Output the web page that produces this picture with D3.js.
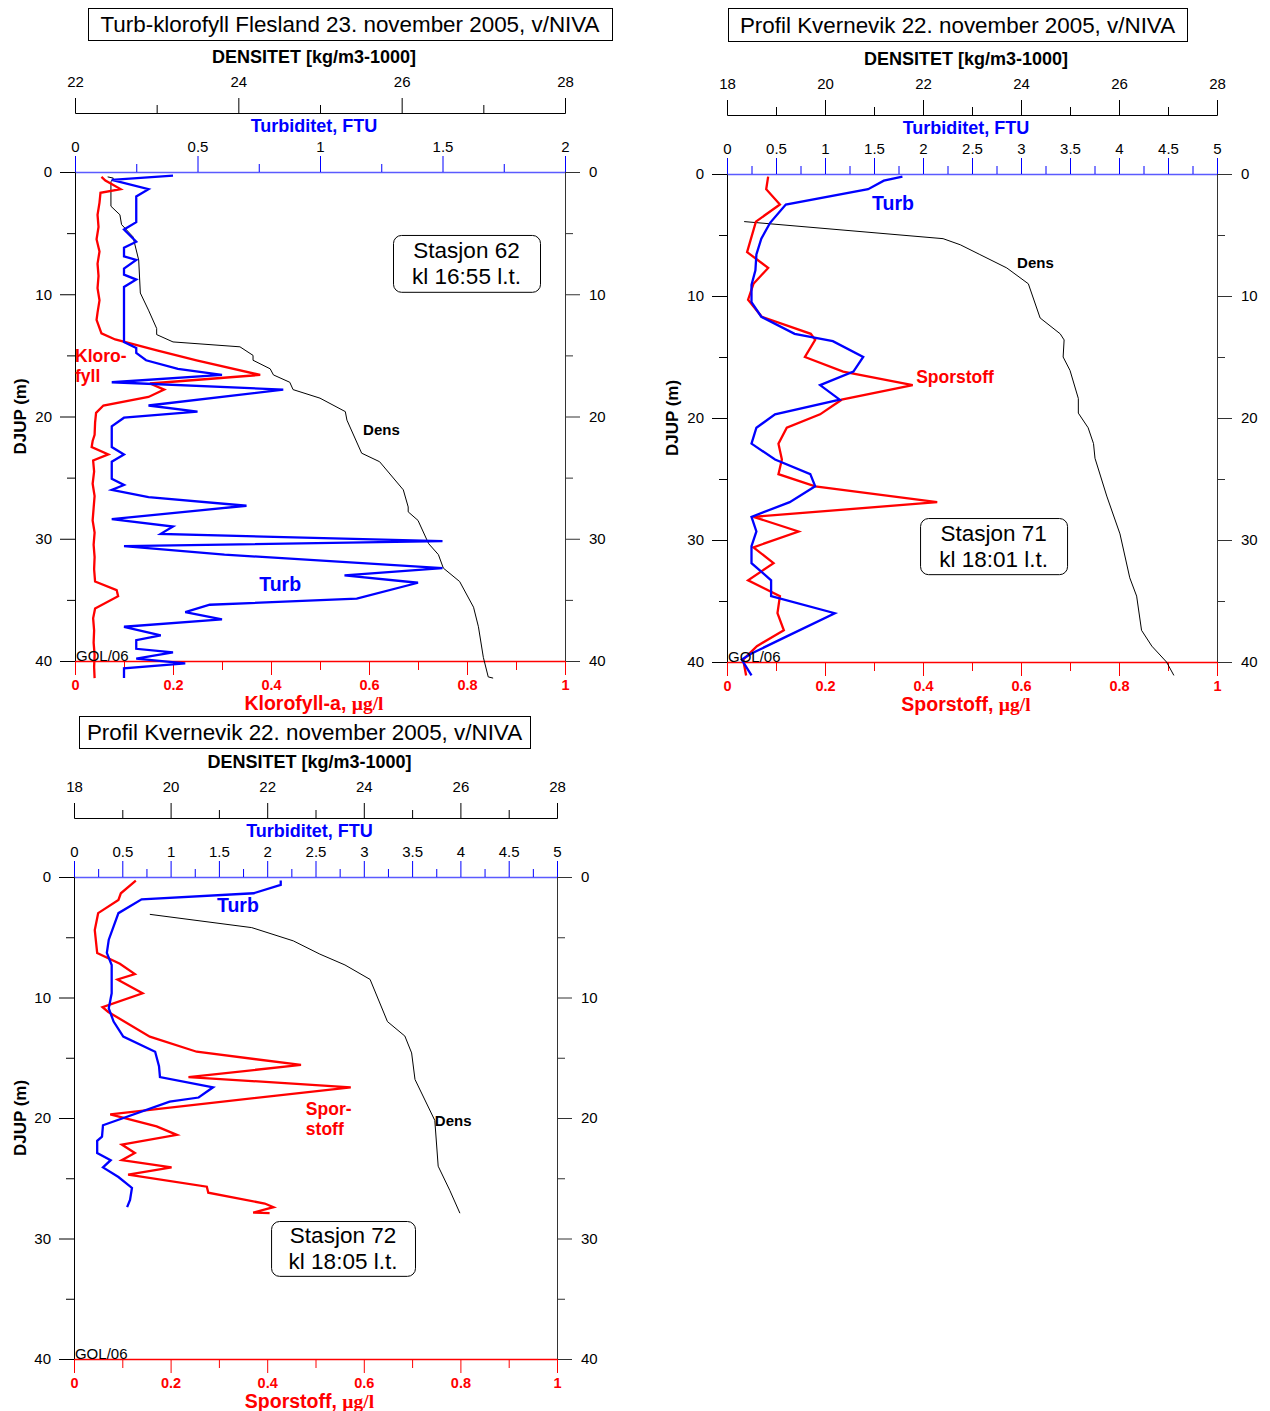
<!DOCTYPE html>
<html><head><meta charset="utf-8">
<script src="https://cdn.jsdelivr.net/npm/d3@7"></script>
<style>body{margin:0;background:#fff}svg{display:block}</style>
</head><body>
<svg id="c" width="1270" height="1411"></svg>
<script>
// ---------------- DATA ----------------
const depthMajorTicks = [0, 10, 20, 30, 40];
const depthMinorTicks = [5, 15, 25, 35];
const bottomMajorTicks = [0, 0.2, 0.4, 0.6, 0.8, 1];
const bottomMinorTicks = [0.1, 0.3, 0.5, 0.7, 0.9];

const p1DensTicks = [22, 24, 26, 28];
const p1DensMinor = [23, 25, 27];
const p1TurbTicks = [0, 0.5, 1, 1.5, 2];
const p1TurbMinor = [0.25, 0.75, 1.25, 1.75];
const p23DensTicks = [18, 20, 22, 24, 26, 28];
const p23DensMinor = [19, 21, 23, 25, 27];
const p23TurbTicks = [0, 0.5, 1, 1.5, 2, 2.5, 3, 3.5, 4, 4.5, 5];
const p23TurbMinor = [0.25, 0.75, 1.25, 1.75, 2.25, 2.75, 3.25, 3.75, 4.25, 4.75];

// Panel 1 – Stasjon 62
const p1TurbDepth = [0.3,0.65,1.4,2.0,4.1,4.7,5.7,6.2,6.9,7.2,7.9,8.4,8.8,9.4,13.9,14.4,14.8,15.4,16.1,16.6,17.2,17.8,19.1,19.6,20.1,20.8,22.5,23.1,23.7,25.1,25.6,26.0,26.6,27.3,28.4,29.0,29.6,30.2,30.6,31.3,32.4,33.0,33.6,34.9,35.4,36.0,36.6,37.2,37.9,38.3,39.0,39.3,39.8,40.2,40.6,41.4];
const p1TurbFTU   = [0.40,0.15,0.30,0.25,0.25,0.20,0.25,0.20,0.20,0.25,0.20,0.20,0.25,0.20,0.20,0.25,0.25,0.29,0.42,0.60,0.15,0.85,0.30,0.50,0.20,0.15,0.15,0.20,0.15,0.15,0.20,0.15,0.30,0.70,0.15,0.40,0.35,1.50,0.20,0.61,1.50,1.10,1.40,1.15,0.55,0.45,0.60,0.20,0.35,0.25,0.25,0.40,0.25,0.45,0.20,0.20];
const p1ChlDepth = [0.4,0.7,1.4,1.7,2.5,3.5,4.5,5.5,6.5,7.5,8.5,9.5,10.5,11.5,12.1,13.2,13.7,14.6,15.4,16.6,17.3,17.8,18.4,19.1,19.7,20.5,21.5,22.0,22.5,23.1,23.6,24.5,25.5,26.5,27.5,28.5,29.5,30.5,31.5,32.5,33.5,34.2,34.7,35.7,36.5,37.5,38.5,39.5,40.5,41.4];
const p1Chl      = [0.054,0.062,0.093,0.052,0.050,0.046,0.048,0.044,0.050,0.046,0.048,0.046,0.050,0.046,0.044,0.054,0.082,0.167,0.248,0.378,0.153,0.182,0.150,0.058,0.043,0.041,0.040,0.036,0.034,0.068,0.037,0.039,0.036,0.040,0.038,0.036,0.040,0.038,0.040,0.039,0.041,0.085,0.088,0.041,0.037,0.039,0.038,0.040,0.039,0.040];
const p1DensDepth = [0.4,0.5,0.8,2.8,3.5,4.3,5.3,7.2,9.9,11.3,12.8,13.3,13.9,14.3,15.0,15.4,16.1,16.6,17.2,17.8,18.5,19.6,20.3,23.0,23.7,26.0,27.4,27.8,28.5,30.4,31.3,32.4,33.5,35.6,37.2,39.7,41.3,41.4];
const p1Dens      = [22.40,22.47,22.44,22.44,22.55,22.57,22.71,22.78,22.80,22.90,23.00,23.00,23.20,24.02,24.18,24.18,24.39,24.43,24.63,24.67,25.00,25.31,25.33,25.51,25.73,26.02,26.08,26.08,26.20,26.33,26.45,26.51,26.71,26.88,26.94,27.00,27.06,27.12];

// Panel 2 – Stasjon 71
const p2TurbDepth = [0.22,0.55,1.25,2.5,4.0,5.3,6.6,7.9,9.1,10.5,11.7,13.1,13.7,15.0,16.2,17.3,18.5,19.7,20.8,22.1,23.4,24.6,25.6,26.9,28.1,29.3,30.5,31.9,33.3,34.6,36.0,37.9,39.3,39.8,41.1];
const p2TurbFTU   = [1.79,1.60,1.44,0.60,0.44,0.35,0.30,0.29,0.25,0.25,0.35,0.69,1.08,1.39,1.29,0.95,1.15,0.49,0.30,0.25,0.49,0.85,0.90,0.64,0.25,0.30,0.25,0.25,0.45,0.45,1.10,0.61,0.25,0.15,0.25];
const p2SporDepth = [0.22,1.25,2.5,3.9,6.4,7.7,9.0,10.3,11.7,13.1,13.6,15.0,16.2,17.3,18.5,19.7,20.8,22.1,23.4,24.6,25.6,26.9,28.1,29.3,30.6,31.9,33.3,34.6,36.0,37.4,38.7,39.8,41.1];
const p2Spor      = [0.084,0.080,0.108,0.059,0.041,0.084,0.054,0.043,0.071,0.171,0.180,0.159,0.237,0.379,0.234,0.190,0.122,0.105,0.112,0.105,0.180,0.429,0.054,0.146,0.054,0.095,0.043,0.108,0.103,0.116,0.061,0.033,0.039];
const p2DensDepth = [3.9,5.3,5.8,6.6,7.7,9.0,11.8,13.1,13.6,15.0,16.1,18.4,19.6,20.8,22.1,23.3,26.4,29.5,33.1,34.6,37.4,38.7,40.0,41.1];
const p2Dens      = [18.35,22.41,22.76,23.16,23.71,24.15,24.39,24.80,24.88,24.86,25.00,25.17,25.17,25.37,25.48,25.51,25.75,26.02,26.22,26.36,26.46,26.67,26.97,27.12];

// Panel 3 – Stasjon 72
const p3TurbDepth = [0.3,0.66,1.35,1.85,3.0,5.2,6.3,7.3,9.65,10.9,12.0,13.25,14.5,15.7,16.6,17.45,18.3,18.65,20.6,21.55,21.9,22.9,23.5,24.1,24.9,25.8,26.8,27.4];
const p3TurbFTU   = [2.14,2.14,1.86,0.70,0.46,0.36,0.34,0.39,0.39,0.36,0.41,0.51,0.84,0.88,0.89,1.44,1.29,0.99,0.30,0.29,0.24,0.24,0.38,0.30,0.46,0.60,0.58,0.55];
const p3SporDepth = [0.3,1.35,1.9,3.0,4.4,6.3,7.2,8.05,8.5,9.65,10.8,11.2,13.25,14.5,15.6,16.6,17.45,19.7,20.7,21.4,22.2,22.9,23.5,24.1,24.7,25.7,26.2,27.1,27.4,27.85,27.9];
const p3Spor      = [0.128,0.097,0.092,0.050,0.043,0.048,0.095,0.126,0.090,0.142,0.059,0.071,0.157,0.254,0.470,0.237,0.573,0.075,0.171,0.213,0.099,0.126,0.099,0.202,0.112,0.275,0.278,0.395,0.413,0.371,0.405];
const p3DensDepth = [3.1,4.2,5.3,6.4,7.3,8.5,12.0,13.2,14.6,16.8,20.2,24.0,26.0,27.9];
const p3Dens      = [19.57,21.68,22.54,23.09,23.61,24.13,24.49,24.85,24.99,25.06,25.47,25.54,25.78,25.99];

// ---------------- DRAWING ----------------
const FONT = "'Liberation Sans', Arial, Helvetica, sans-serif";
const SERIF = "'Liberation Serif', 'Times New Roman', serif";
const svg = d3.select('#c');
svg.append('rect').attr('width',1270).attr('height',1411).attr('fill','#fff');

const zip = (a, b) => a.map((d, i) => ({d: d, v: b[i]}));

function styleAxis(g, color, fontSize, bold, textColor) {
  g.attr('font-family', FONT).attr('font-size', fontSize).attr('color', color);
  g.selectAll('.domain').attr('stroke', color);
  g.selectAll('.tick line').attr('stroke', color);
  g.selectAll('text').attr('fill', textColor || '#000').attr('font-weight', bold ? 'bold' : 'normal');
}

function drawPanel(c) {
  const g = svg.append('g');
  const y  = d3.scaleLinear().domain([0, 40]).range([c.top, c.bottom]);
  const xb = d3.scaleLinear().domain([0, 1]).range([c.left, c.right]);
  const xt = d3.scaleLinear().domain([0, c.turbMax]).range([c.left, c.right]);
  const xd = d3.scaleLinear().domain(c.densDomain).range([c.left, c.right]);
  const cx = (c.left + c.right) / 2 - 6;

  // title box
  g.append('rect').attr('x', c.box[0] + 0.5).attr('y', c.box[1] + 0.5)
    .attr('width', c.box[2] - c.box[0]).attr('height', c.box[3] - c.box[1])
    .attr('fill', '#fff').attr('stroke', '#000').attr('stroke-width', 1);
  g.append('text').attr('x', (c.box[0] + c.box[2]) / 2).attr('y', (c.box[1] + c.box[3]) / 2 + 8)
    .attr('text-anchor', 'middle').attr('font-family', FONT).attr('font-size', 22.4).text(c.title);

  // density axis
  g.append('text').attr('x', cx).attr('y', c.top - 109).attr('text-anchor', 'middle')
    .attr('font-family', FONT).attr('font-size', 18).attr('font-weight', 'bold')
    .text('DENSITET [kg/m3-1000]');
  const densY = c.top - 59;
  const dMaj = g.append('g').attr('transform', `translate(0,${densY})`)
    .call(d3.axisTop(xd).tickValues(c.densMajor).tickSize(15).tickPadding(11).tickSizeOuter(0).tickFormat(d3.format('d')));
  styleAxis(dMaj, '#000', 15, false);
  const dMin = g.append('g').attr('transform', `translate(0,${densY})`)
    .call(d3.axisTop(xd).tickValues(c.densMinor).tickSize(8).tickSizeOuter(0).tickFormat(''));
  styleAxis(dMin, '#000', 15, false);

  // turbidity axis (top of plot)
  g.append('text').attr('x', cx).attr('y', c.top - 40).attr('text-anchor', 'middle')
    .attr('font-family', FONT).attr('font-size', 18).attr('font-weight', 'bold').attr('fill', '#0000ff')
    .text('Turbiditet, FTU');
  const tMaj = g.append('g').attr('transform', `translate(0,${c.top})`)
    .call(d3.axisTop(xt).tickValues(c.turbMajor).tickSize(16).tickPadding(4).tickSizeOuter(0).tickFormat(d3.format('')));
  styleAxis(tMaj, '#0000ff', 15, false, '#000');
  tMaj.select('.domain').attr('stroke', '#5a5aff').attr('stroke-width', 1.5);
  const tMin = g.append('g').attr('transform', `translate(0,${c.top})`)
    .call(d3.axisTop(xt).tickValues(c.turbMinor).tickSize(8).tickSizeOuter(0).tickFormat(''));
  styleAxis(tMin, '#0000ff', 15, false);
  tMin.select('.domain').remove();

  // depth axes
  const lMaj = g.append('g').attr('transform', `translate(${c.left},0)`)
    .call(d3.axisLeft(y).tickValues(depthMajorTicks).tickSize(15).tickPadding(8).tickSizeOuter(0));
  styleAxis(lMaj, '#000', 15, false);
  const lMin = g.append('g').attr('transform', `translate(${c.left},0)`)
    .call(d3.axisLeft(y).tickValues(depthMinorTicks).tickSize(8).tickSizeOuter(0).tickFormat(''));
  styleAxis(lMin, '#000', 15, false);
  const rMaj = g.append('g').attr('transform', `translate(${c.right},0)`)
    .call(d3.axisRight(y).tickValues(depthMajorTicks).tickSize(15).tickPadding(9).tickSizeOuter(0));
  styleAxis(rMaj, '#333', 15, false);
  const rMin = g.append('g').attr('transform', `translate(${c.right},0)`)
    .call(d3.axisRight(y).tickValues(depthMinorTicks).tickSize(8).tickSizeOuter(0).tickFormat(''));
  styleAxis(rMin, '#333', 15, false);

  g.append('text').attr('transform', `translate(${c.depthLabelX},${(c.top + c.bottom) / 2}) rotate(-90)`)
    .attr('text-anchor', 'middle').attr('dy', '0.35em').attr('font-family', FONT)
    .attr('font-size', 17).attr('font-weight', 'bold').text('DJUP (m)');

  // bottom axis (red)
  const bMaj = g.append('g').attr('transform', `translate(0,${c.bottom})`)
    .call(d3.axisBottom(xb).tickValues(bottomMajorTicks).tickSize(14).tickPadding(5).tickSizeOuter(0).tickFormat(d3.format('')));
  styleAxis(bMaj, '#ff0000', 14.5, true, '#ff0000');
  bMaj.select('.domain').attr('stroke-width', 1.5);
  const bMin = g.append('g').attr('transform', `translate(0,${c.bottom})`)
    .call(d3.axisBottom(xb).tickValues(bottomMinorTicks).tickSize(9).tickSizeOuter(0).tickFormat(''));
  styleAxis(bMin, '#ff0000', 14.5, true);
  bMin.select('.domain').remove();

  const bt = g.append('text').attr('x', cx).attr('y', c.bottom + 49).attr('text-anchor', 'middle')
    .attr('font-family', FONT).attr('font-size', 19.5).attr('font-weight', 'bold').attr('fill', '#ff0000');
  bt.append('tspan').text(c.bottomTitle);
  bt.append('tspan').attr('font-family', SERIF).text('\u00b5g/l');

  // data lines
  const lineD = d3.line().x(p => xd(p.v)).y(p => y(p.d));
  const lineT = d3.line().x(p => xt(p.v)).y(p => y(p.d));
  const lineB = d3.line().x(p => xb(p.v)).y(p => y(p.d));
  g.append('path').datum(zip(c.densDepth, c.dens)).attr('d', lineD)
    .attr('fill', 'none').attr('stroke', '#000').attr('stroke-width', 1);
  g.append('path').datum(zip(c.redDepth, c.red)).attr('d', lineB)
    .attr('fill', 'none').attr('stroke', '#ff0000').attr('stroke-width', 2.3).attr('stroke-linejoin', 'miter');
  g.append('path').datum(zip(c.turbDepth, c.turb)).attr('d', lineT)
    .attr('fill', 'none').attr('stroke', '#0000ff').attr('stroke-width', 2.3).attr('stroke-linejoin', 'miter');

  // annotations (placed in data space)
  c.labels.forEach(l => {
    g.append('text').attr('x', xb(l.v)).attr('y', y(l.d)).attr('dy', '0.35em')
      .attr('font-family', FONT).attr('font-size', l.size).attr('font-weight', l.bold ? 'bold' : 'normal')
      .attr('fill', l.color).text(l.text);
  });
  const s = c.station;
  const bx0 = xb(s.v[0]), bx1 = xb(s.v[1]), by0 = y(s.d[0]), by1 = y(s.d[1]);
  g.append('rect').attr('x', bx0 + 0.5).attr('y', by0 + 0.5).attr('width', bx1 - bx0).attr('height', by1 - by0)
    .attr('rx', 8).attr('ry', 8).attr('fill', '#fff').attr('stroke', '#000').attr('stroke-width', 1);
  const mx = (bx0 + bx1) / 2, my = (by0 + by1) / 2;
  s.lines.forEach((t, i) => {
    g.append('text').attr('x', mx).attr('y', my + (i === 0 ? -13 : 13)).attr('dy', '0.35em')
      .attr('text-anchor', 'middle').attr('font-family', FONT).attr('font-size', 22.5).text(t);
  });
}

drawPanel({
  left: 75, right: 565, top: 172, bottom: 661, depthLabelX: 20,
  box: [88, 8, 612, 40], title: 'Turb-klorofyll Flesland 23. november 2005, v/NIVA',
  turbMax: 2, turbMajor: p1TurbTicks, turbMinor: p1TurbMinor,
  densDomain: [22, 28], densMajor: p1DensTicks, densMinor: p1DensMinor,
  bottomTitle: 'Klorofyll-a, ',
  turbDepth: p1TurbDepth, turb: p1TurbFTU, redDepth: p1ChlDepth, red: p1Chl, densDepth: p1DensDepth, dens: p1Dens,
  labels: [
    {text: 'Kloro-', v: 0, d: 15.05, size: 17.5, bold: true, color: '#ff0000'},
    {text: 'fyll', v: 0, d: 16.7, size: 17.5, bold: true, color: '#ff0000'},
    {text: 'Dens', v: 0.588, d: 21.1, size: 15, bold: true, color: '#000'},
    {text: 'Turb', v: 0.376, d: 33.7, size: 19.5, bold: true, color: '#0000ff'},
    {text: 'GOL/06', v: 0.002, d: 39.6, size: 15, bold: false, color: '#000'}
  ],
  station: {v: [0.649, 0.949], d: [5.15, 9.8], lines: ['Stasjon 62', 'kl 16:55 l.t.']}
});

drawPanel({
  left: 727, right: 1217, top: 174, bottom: 662, depthLabelX: 672,
  box: [728, 8, 1187, 41], title: 'Profil Kvernevik 22. november 2005, v/NIVA',
  turbMax: 5, turbMajor: p23TurbTicks, turbMinor: p23TurbMinor,
  densDomain: [18, 28], densMajor: p23DensTicks, densMinor: p23DensMinor,
  bottomTitle: 'Sporstoff, ',
  turbDepth: p2TurbDepth, turb: p2TurbFTU, redDepth: p2SporDepth, red: p2Spor, densDepth: p2DensDepth, dens: p2Dens,
  labels: [
    {text: 'Turb', v: 0.296, d: 2.4, size: 19.5, bold: true, color: '#0000ff'},
    {text: 'Dens', v: 0.592, d: 7.3, size: 15, bold: true, color: '#000'},
    {text: 'Sporstoff', v: 0.386, d: 16.6, size: 17.5, bold: true, color: '#ff0000'},
    {text: 'GOL/06', v: 0.002, d: 39.6, size: 15, bold: false, color: '#000'}
  ],
  station: {v: [0.394, 0.694], d: [28.2, 32.8], lines: ['Stasjon 71', 'kl 18:01 l.t.']}
});

drawPanel({
  left: 74, right: 557, top: 877, bottom: 1359, depthLabelX: 20,
  box: [79, 716, 530, 748], title: 'Profil Kvernevik 22. november 2005, v/NIVA',
  turbMax: 5, turbMajor: p23TurbTicks, turbMinor: p23TurbMinor,
  densDomain: [18, 28], densMajor: p23DensTicks, densMinor: p23DensMinor,
  bottomTitle: 'Sporstoff, ',
  turbDepth: p3TurbDepth, turb: p3TurbFTU, redDepth: p3SporDepth, red: p3Spor, densDepth: p3DensDepth, dens: p3Dens,
  labels: [
    {text: 'Turb', v: 0.296, d: 2.3, size: 19.5, bold: true, color: '#0000ff'},
    {text: 'Spor-', v: 0.48, d: 19.25, size: 17.5, bold: true, color: '#ff0000'},
    {text: 'stoff', v: 0.48, d: 20.9, size: 17.5, bold: true, color: '#ff0000'},
    {text: 'Dens', v: 0.747, d: 20.25, size: 15, bold: true, color: '#000'},
    {text: 'GOL/06', v: 0.002, d: 39.6, size: 15, bold: false, color: '#000'}
  ],
  station: {v: [0.408, 0.706], d: [28.55, 33.1], lines: ['Stasjon 72', 'kl 18:05 l.t.']}
});
</script>
</body></html>
